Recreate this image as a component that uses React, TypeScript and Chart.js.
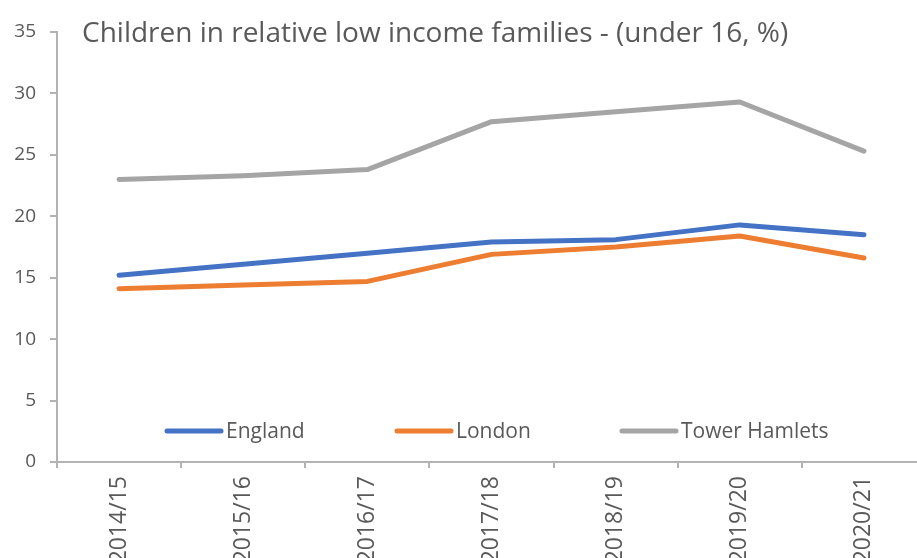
import React, { useEffect, useRef } from "react";
import { Chart, registerables } from "chart.js";

Chart.register(...registerables);

const TITLE = "Children in relative low income families - (under 16, %)";
const categories = ["2014/15", "2015/16", "2016/17", "2017/18", "2018/19", "2019/20", "2020/21"];
const england = [15.2, 16.1, 17.0, 17.9, 18.1, 19.3, 18.5];
const london = [14.1, 14.4, 14.7, 16.9, 17.5, 18.4, 16.6];
const towerHamlets = [23.0, 23.3, 23.8, 27.7, 28.5, 29.3, 25.3];
const seriesNames = ["England", "London", "Tower Hamlets"];
const yTicks = [0, 5, 10, 15, 20, 25, 30, 35];

const FONT = "'Open Sans', sans-serif";
const TEXT = "#595959";
const AXIS = "#b3b3b3";

const overlayPlugin = {
  id: "overlay",
  afterDraw(chart: any) {
    const { ctx, chartArea } = chart;
    ctx.save();
    ctx.fillStyle = TEXT;
    ctx.font = `28px ${FONT}`;
    ctx.textBaseline = "alphabetic";
    ctx.textAlign = "left";
    ctx.fillText(TITLE, chartArea.left + 25, 42);

    // legend
    const legendY = 431;
    const starts = [167, 397, 622];
    ctx.font = `21px ${FONT}`;
    ctx.textBaseline = "middle";
    chart.data.datasets.forEach((ds: any, i: number) => {
      const x = starts[i];
      ctx.strokeStyle = ds.borderColor;
      ctx.lineWidth = 5;
      ctx.lineCap = "round";
      ctx.beginPath();
      ctx.moveTo(x, legendY);
      ctx.lineTo(x + 54, legendY);
      ctx.stroke();
      ctx.fillStyle = TEXT;
      ctx.fillText(ds.label, x + 59, legendY + 1);
    });
    ctx.restore();
  },
};

export default function App() {
  const ref = useRef<HTMLCanvasElement>(null);
  useEffect(() => {
    document.body.style.margin = "0";
    document.body.style.overflow = "hidden";
    const colors = ["#4472C4", "#ED7D31", "#A5A5A5"];
    const values = [england, london, towerHamlets];
    const chart = new Chart(ref.current!, {
      type: "line",
      data: {
        labels: categories,
        datasets: seriesNames.map((name, i) => ({
          label: name,
          data: values[i],
          borderColor: colors[i],
          backgroundColor: colors[i],
          borderWidth: 5,
          pointRadius: 0,
          tension: 0,
          borderCapStyle: "round" as const,
          borderJoinStyle: "round" as const,
        })),
      },
      options: {
        animation: false,
        responsive: false,
        maintainAspectRatio: false,
        layout: { padding: { top: 32, right: 1, left: 0, bottom: 0 } },
        plugins: {
          legend: { display: false },
          title: { display: false },
          tooltip: { enabled: false },
        },
        scales: {
          x: {
            type: "category",
            offset: true,
            grid: {
              offset: true,
              drawOnChartArea: false,
              drawTicks: true,
              tickLength: 6,
              color: AXIS,
              lineWidth: 2,
            },
            border: { color: AXIS, width: 2 },
            ticks: {
              color: TEXT,
              font: { family: FONT, size: 23 },
              minRotation: 90,
              maxRotation: 90,
              padding: 8,
              autoSkip: false,
            },
            afterFit(scale: any) {
              scale.height = 96;
            },
          },
          y: {
            min: 0,
            max: 35,
            afterBuildTicks(scale: any) {
              scale.ticks = yTicks.map((v) => ({ value: v }));
            },
            grid: {
              drawOnChartArea: false,
              drawTicks: true,
              tickLength: 7,
              color: AXIS,
              lineWidth: 2,
            },
            border: { color: AXIS, width: 2 },
            ticks: {
              color: TEXT,
              font: { family: FONT, size: 19 },
              padding: 14,
            },
            afterFit(scale: any) {
              scale.width = 57;
            },
          },
        },
      },
      plugins: [overlayPlugin],
    });
    return () => chart.destroy();
  }, []);
  return (
    <div style={{ position: "absolute", left: 0, top: 0, width: 927, height: 558 }}>
      <canvas ref={ref} width={927} height={558} style={{ width: 927, height: 558 }} />
    </div>
  );
}
